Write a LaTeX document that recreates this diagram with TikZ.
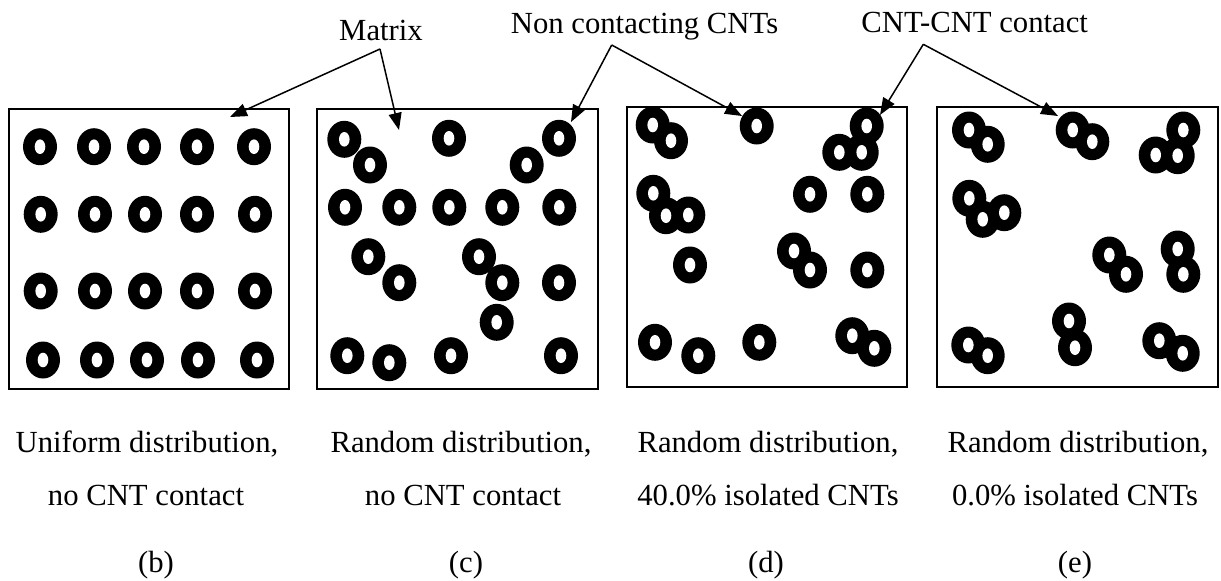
\documentclass[tikz,border=0pt]{standalone}
\usepackage{fontspec}
\setmainfont{Liberation Serif}
\usetikzlibrary{arrows.meta}
\tikzset{
  panel/.style={draw=black,line width=1.5pt},
  lbl/.style={anchor=base,inner sep=0pt,font=\fontsize{30.7}{36}\selectfont},
  pointer/.style={line width=1.5pt,-{Triangle[length=17pt,width=13pt]}},
}
\newcommand\ringset[1]{%
  \foreach \x/\y in {#1}{\fill[black] (\x,\y) ellipse [x radius=17pt,y radius=18.5pt];}%
  \foreach \x/\y in {#1}{\fill[white] (\x,\y) ellipse [x radius=5.3pt,y radius=7.3pt];}%
}
\begin{document}
\begin{tikzpicture}[x=1pt,y=-1pt]
\useasboundingbox[fill=white] (0,0) rectangle (1221,581);
% panels
\draw[panel] (9,109) rectangle (289,389);
\draw[panel] (317,109) rectangle (598,389);
\draw[panel] (627,107) rectangle (907,387);
\draw[panel] (937,107) rectangle (1218,387);
% (b) uniform
\ringset{40/146.7,94/146.7,144/146.7,197/146.7,254/146.7,
 40.7/214.3,95/214.3,145/214.3,197/214.3,255/214.3,
 40.7/291,95/291,145/291,197/291,255/291,
 43/360,97/360,147/360,198/360,257/360}
% (c) random, no contact
\ringset{344.3/139.3,370/165,449/138.3,526.7/165,559/138.3,
 345/207.3,399.3/207.3,449.3/207.3,502.3/207.3,559.3/207.3,
 368.3/256.7,399.3/282.7,479/256.7,502.3/282.7,559/282.7,
 496.7/322.3,347.3/355.7,389.3/362.7,451/355.7,561/355.7}
% (d) 40% isolated
\ringset{652.7/125,671/140.7,756.7/126,866.7/126,839.3/152.3,861.7/152.3,
 653.3/193.3,666/215.7,688.3/215,810/194.3,867.3/194.3,
 794/251,810/270,867.3/270,690/265,
 655/342.3,698.3/355.7,759.3/342.3,852.3/335.7,874.3/348.3}
% (e) 0% isolated
\ringset{969/130,987.7/144.3,1072.7/130,1092.3/141.7,1183.3/130,1155.7/155,1177.7/155.7,
 969.3/198.3,982.7/219.3,1004.3/212.7,
 1109.3/255,1126/274.3,1177.7/249,1183.3/274.3,
 1069/321,1075/347.7,968.3/345,987.7/355.7,1159.3/340.7,1182.7/353.3}
% top labels
\node[lbl] (matrix) at (381,40) {Matrix};
\node[lbl] (noncont) at (644.5,33) {Non contacting CNTs};
\node[lbl] (contact) at (974.7,32) {CNT-CNT contact};
\coordinate (mFrom) at (380,49);
\coordinate (nFrom) at (611.7,45);
\coordinate (cFrom) at (923.3,44.3);
\coordinate (mTipB) at (230,117);
\coordinate (mTipC) at (399,130);
\coordinate (nTipC) at (571,122);
\coordinate (nTipD) at (742,116);
\coordinate (cTipD) at (880,115);
\coordinate (cTipE) at (1058,116);
\draw[pointer] (mFrom) -- (mTipB);
\draw[pointer] (mFrom) -- (mTipC);
\draw[pointer] (nFrom) -- (nTipC);
\draw[pointer] (nFrom) -- (nTipD);
\draw[pointer] (cFrom) -- (cTipD);
\draw[pointer] (cFrom) -- (cTipE);
% bottom captions
\node[lbl] (b1) at (147,452) {Uniform distribution,};
\node[lbl] (b2) at (146,505) {no CNT contact};
\node[lbl] (b3) at (156,572) {(b)};
\node[lbl] (c1) at (461,452) {Random distribution,};
\node[lbl] (c2) at (463,505) {no CNT contact};
\node[lbl] (c3) at (466,572) {(c)};
\node[lbl] (d1) at (768,452) {Random distribution,};
\node[lbl] (d2) at (768,505) {40.0\% isolated CNTs};
\node[lbl] (d3) at (766,572) {(d)};
\node[lbl] (e1) at (1078,452) {Random distribution,};
\node[lbl] (e2) at (1075,505) {0.0\% isolated CNTs};
\node[lbl] (e3) at (1075,572) {(e)};
\end{tikzpicture}
\end{document}
